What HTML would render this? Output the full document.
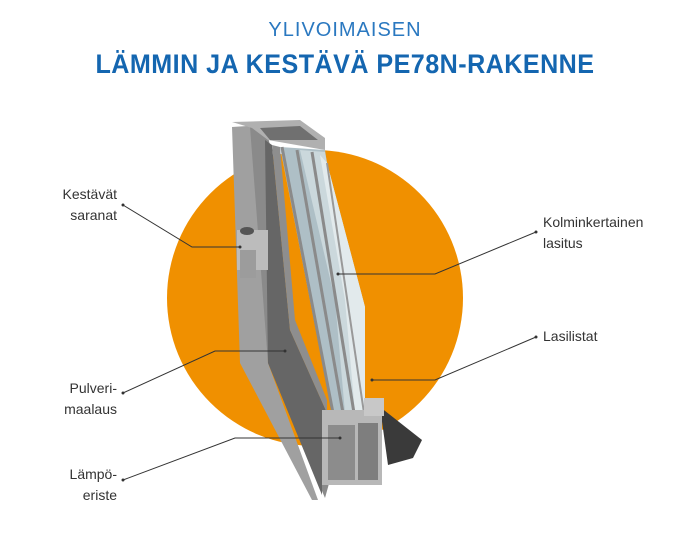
<!DOCTYPE html>
<html><head><meta charset="utf-8"><style>
html,body{margin:0;padding:0;background:#fff;}
body{width:690px;height:550px;position:relative;overflow:hidden;font-family:"Liberation Sans",sans-serif;}
.t{position:absolute;font-size:14px;line-height:21px;color:#333;}
.r{text-align:right;}
</style></head><body>
<div style="position:absolute;left:0;width:690px;top:19px;text-align:center;font-size:20px;color:#2a78c0;letter-spacing:1px;">YLIVOIMAISEN</div>
<div style="position:absolute;left:0;width:690px;top:49px;text-align:center;font-size:27px;font-weight:bold;color:#1466b0;letter-spacing:0.5px;transform:scaleX(0.93);">LÄMMIN JA KESTÄVÄ PE78N-RAKENNE</div>
<svg width="690" height="550" style="position:absolute;left:0;top:0">
<circle cx="315" cy="298" r="148" fill="#f09000"/>
<polygon points="380,407 422,440 413,458 388,465" fill="#3a3a3a"/>
<polygon points="232,127 262,125 268,363 318,500 312,500 240,363" fill="#a0a0a0"/>
<polygon points="250,127 265,125 270,145 275,360 330,480 325,498 268,363" fill="#8a8a8a"/>
<polygon points="265,140 272,145 290,330 327,413 322,413 322,495 268,363" fill="#666"/>
<polygon points="272,145 280,147 295,320 327,400 327,413 290,330" fill="#8e8e8e"/>
<polygon points="232,122 300,120 325,138 325,150 268,140 252,128" fill="#b0b0b0"/>
<polygon points="260,128 300,126 318,140 270,140" fill="#707070"/>
<polygon points="280,147 325,150 327,163 365,307 365,413 332,413" fill="#aebfc6"/>
<polygon points="300,150 325,152 327,163 365,307 365,413 345,413 335,300" fill="#cbd8dc"/>
<polygon points="320,155 327,163 365,307 365,413 355,413 345,300" fill="#e2eaec"/>
<line x1="282" y1="147" x2="333" y2="413" stroke="#8a8a8a" stroke-width="3"/>
<line x1="297" y1="150" x2="343" y2="413" stroke="#8a8a8a" stroke-width="3"/>
<line x1="312" y1="152" x2="354" y2="413" stroke="#8a8a8a" stroke-width="3"/>
<line x1="327" y1="163" x2="364" y2="413" stroke="#999" stroke-width="2"/>
<rect x="322" y="410" width="60" height="75" fill="#b8b8b8"/>
<rect x="328" y="425" width="27" height="55" fill="#8c8c8c"/>
<rect x="358" y="423" width="20" height="57" fill="#7e7e7e"/>
<rect x="364" y="398" width="20" height="18" fill="#c8c8c8"/>
<rect x="237" y="230" width="31" height="40" fill="#bcbcbc"/>
<rect x="240" y="250" width="16" height="28" fill="#9c9c9c"/>
<ellipse cx="247" cy="231" rx="7" ry="4" fill="#555"/>
<g stroke="#333" stroke-width="1" fill="none">
<polyline points="123,205 192,247 240,247"/>
<polyline points="123,393 215,351 285,351"/>
<polyline points="123,480 235,438 340,438"/>
<polyline points="536,232 435,274 338,274"/>
<polyline points="536,337 435,380 372,380"/>
</g>
<g fill="#333"><circle cx="123" cy="205" r="1.5"/><circle cx="123" cy="393" r="1.5"/><circle cx="123" cy="480" r="1.5"/><circle cx="536" cy="232" r="1.5"/><circle cx="536" cy="337" r="1.5"/><circle cx="240" cy="247" r="1.5"/><circle cx="285" cy="351" r="1.5"/><circle cx="340" cy="438" r="1.5"/><circle cx="338" cy="274" r="1.5"/><circle cx="372" cy="380" r="1.5"/></g>
</svg>
<div class="t r" style="right:573px;top:184px;">Kestävät<br>saranat</div>
<div class="t r" style="right:573px;top:378px;">Pulveri-<br>maalaus</div>
<div class="t r" style="right:573px;top:464px;">Lämpö-<br>eriste</div>
<div class="t" style="left:543px;top:212px;">Kolminkertainen<br>lasitus</div>
<div class="t" style="left:543px;top:326px;">Lasilistat</div>
</body></html>
